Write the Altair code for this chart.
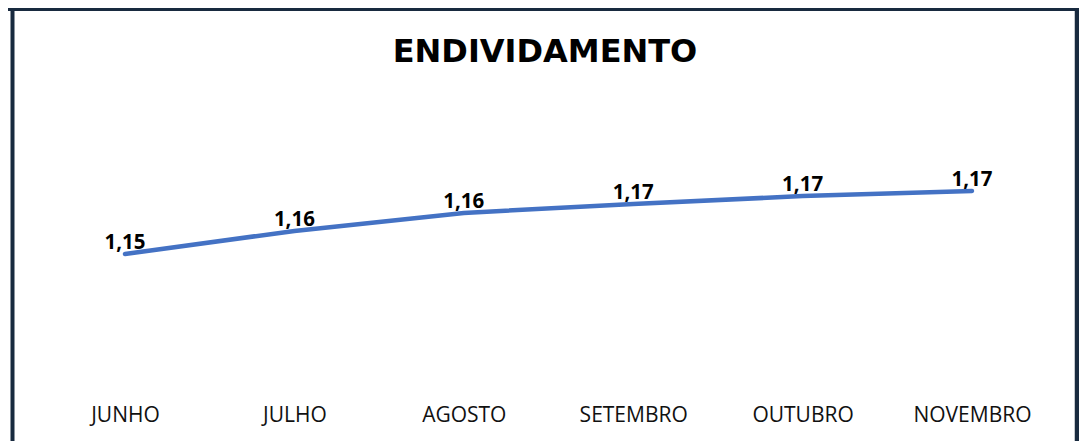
import altair as alt
import pandas as pd

TITULO = "ENDIVIDAMENTO"
meses = ["JUNHO", "JULHO", "AGOSTO", "SETEMBRO", "OUTUBRO", "NOVEMBRO"]
valores = [1.149, 1.1567, 1.1627, 1.1657, 1.1683, 1.170]

df = pd.DataFrame({
    "mes": meses,
    "valor": valores,
    "rotulo": [f"{v:.2f}".replace(".", ",") for v in valores],
})

BORDER = "#182a3f"
W, H = 1071, 433

x_enc = alt.X(
    "mes:N", sort=meses,
    scale=alt.Scale(type="point", range=[117, 964], padding=0),
    axis=alt.Axis(
        title=None, domain=False, ticks=False, grid=False,
        labelFont="Open Sans", labelFontSize=21, labelColor="#111111",
        labelBaseline="middle", labelPadding=0, offset=407 - H, labelAngle=0,
    ),
)
y_enc = alt.Y("valor:Q", scale=alt.Scale(domain=[1.10, 1.20], range=[393, 93]), axis=None)

base = alt.Chart(df)

line = base.mark_line(color="#4472C4", strokeWidth=4.5, strokeCap="round").encode(x=x_enc, y=y_enc)

labels = base.mark_text(
    font="Open Sans", fontWeight="bold", fontSize=20.5, color="#000000",
    baseline="alphabetic", align="center", dy=-5,
).encode(x=alt.X("mes:N", sort=meses), y="valor:Q", text="rotulo:N")

tdata = alt.Data(values=[{"t": TITULO}])
title = alt.Chart(tdata).mark_text(
    font="DejaVu Sans", fontWeight="bold", fontSize=32, color="#000000",
    align="center", baseline="alphabetic",
).encode(x=alt.value(537), y=alt.value(54), text="t:N")

bdata = alt.Data(values=[{"b": 1}])
left = alt.Chart(bdata).mark_rule(color=BORDER, strokeWidth=4).encode(
    x=alt.value(4.5), y=alt.value(-5), y2=alt.value(600))
top = alt.Chart(bdata).mark_rule(color=BORDER, strokeWidth=5).encode(
    x=alt.value(0), x2=alt.value(1200), y=alt.value(0.5))
right = alt.Chart(bdata).mark_rule(color=BORDER, strokeWidth=4.5).encode(
    x=alt.value(W - 2), y=alt.value(-5), y2=alt.value(600))

chart = alt.layer(line, labels, title, left, top, right).properties(
    width=W, height=H, padding=0,
    autosize=alt.AutoSizeParams(type="none"),
    background="#ffffff",
).configure_view(stroke=None)

chart.save("out.html", embed_options={"renderer": "svg", "actions": False})
